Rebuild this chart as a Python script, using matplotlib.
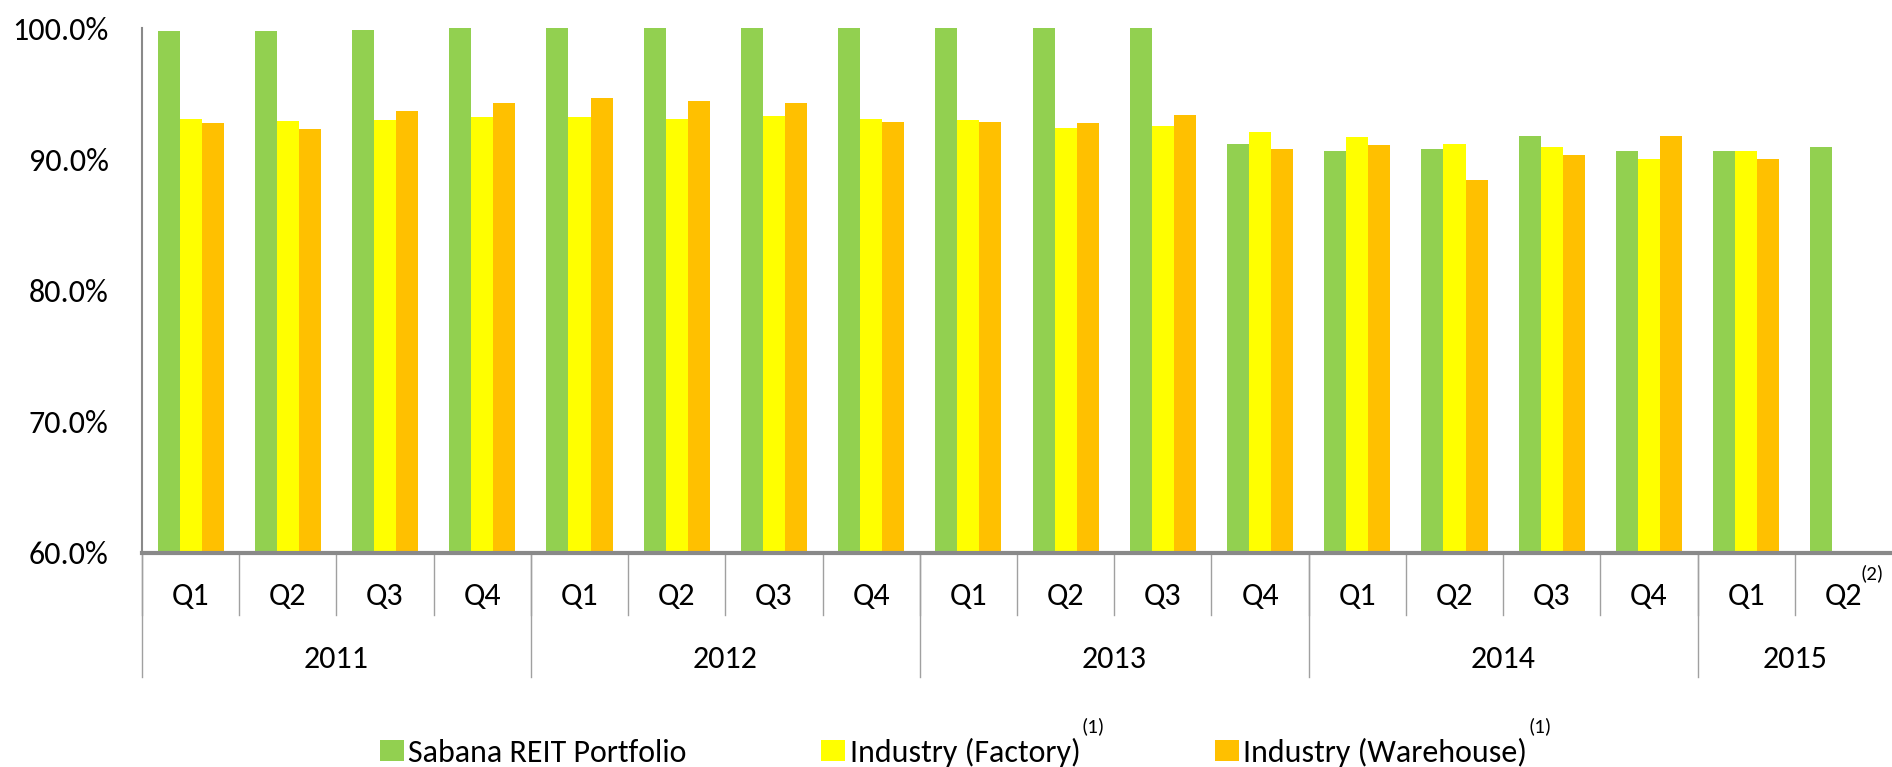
import numpy as np
import matplotlib
matplotlib.use("Agg")
import matplotlib.pyplot as plt
from matplotlib import font_manager
from matplotlib.patches import Patch

# Pick a narrow, Calibri-like face if one is installed
names = sorted({f.name for f in font_manager.fontManager.ttflist})
pick = None
for cand in ["Carlito", "Liberation Sans Narrow", "Roboto Condensed", "Open Sans Condensed", "Lato"]:
    if cand in names:
        pick = cand
        break
plt.rcParams['font.family'] = [pick, 'DejaVu Sans'] if pick else ['DejaVu Sans']

# Data (occupancy, %)
quarters = ["Q1", "Q2", "Q3", "Q4"] * 4 + ["Q1", "Q2"]
years = ["2011", "2012", "2013", "2014", "2015"]
year_spans = [(0, 4), (4, 8), (8, 12), (12, 16), (16, 18)]
sabana = [99.8, 99.8, 99.85, 100.0, 100.0, 100.0, 100.0, 100.0, 100.0, 100.0, 100.0,
          91.2, 90.6, 90.8, 91.8, 90.65, 90.6, 90.9]
factory = [93.1, 92.9, 93.0, 93.25, 93.25, 93.1, 93.3, 93.05, 93.0, 92.35, 92.5,
           92.1, 91.7, 91.15, 90.95, 90.0, 90.6, np.nan]
warehouse = [92.75, 92.3, 93.65, 94.3, 94.7, 94.45, 94.3, 92.85, 92.85, 92.75, 93.35,
             90.8, 91.05, 88.45, 90.35, 91.8, 90.0, np.nan]
series_labels = ["Sabana REIT Portfolio", "Industry (Factory)", "Industry (Warehouse)"]
colors = ["#92D050", "#FFFF00", "#FFC000"]

fs = 23
W, H = 1892, 767
fig = plt.figure(figsize=(W / 100, H / 100), dpi=100)
ax = fig.add_axes([142 / W, 1 - 553 / H, 1 - 142 / W, (553 - 28) / H])

x = np.arange(len(quarters))
bw = 0.227
for i, (vals, col) in enumerate(zip([sabana, factory, warehouse], colors)):
    ax.bar(x + (i - 1) * bw, vals, width=bw, color=col, zorder=2)

ax.set_xlim(-0.5, len(quarters) - 0.5)
ax.set_ylim(60, 100)
ax.set_yticks([60, 70, 80, 90, 100])
ax.set_yticklabels([f"{v:.1f}%" for v in [60, 70, 80, 90, 100]], fontsize=fs)
ax.tick_params(axis='y', length=0, pad=24)
ax.set_xticks([])

for s in ["top", "right"]:
    ax.spines[s].set_visible(False)
ax.spines["left"].set_color("#898989")
ax.spines["left"].set_linewidth(1.5)
ax.spines["bottom"].set_color("#898989")
ax.spines["bottom"].set_linewidth(3)

# Two-level category axis
ah = 553 - 28
trans = ax.get_xaxis_transform()
for i, q in enumerate(quarters):
    ax.text(i, -43 / ah, q, transform=trans, ha="center", va="center", fontsize=fs)
    ax.plot([i - 0.5, i - 0.5], [0, -62 / ah], transform=trans, color="#A0A0A0",
            lw=1, clip_on=False)
ax.text(17.29, -20 / ah, "(2)", transform=trans, ha="center", va="center", fontsize=15)
for yr, (a, b) in zip(years, year_spans):
    ax.text((a + b - 1) / 2, -106 / ah, yr, transform=trans, ha="center", va="center",
            fontsize=fs)
    ax.plot([a - 0.5, a - 0.5], [0, -124 / ah], transform=trans, color="#A0A0A0",
            lw=1, clip_on=False)

handles = [Patch(facecolor=c, edgecolor="none") for c in colors]
leg = fig.legend(handles, series_labels, loc="center", bbox_to_anchor=(0.504, 1 - 752 / H),
                 ncol=3, frameon=False, fontsize=fs, handlelength=0.75, handleheight=0.65,
                 handletextpad=0.15, columnspacing=4.2, borderpad=0)

# Superscript note markers on the industry entries
fig.canvas.draw()
r = fig.canvas.get_renderer()
for t in leg.get_texts()[1:]:
    bb = t.get_window_extent(r)
    fig.text((bb.x1 + 1) / W, (bb.y1 + 2) / H, "(1)", ha="left", va="bottom", fontsize=15)

fig.savefig("out.png", dpi=100)
